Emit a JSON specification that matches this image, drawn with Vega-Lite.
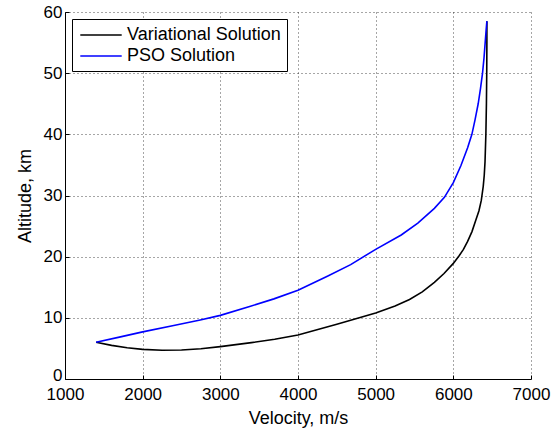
{
  "$schema": "https://vega.github.io/schema/vega-lite/v6.json",
  "width": 466,
  "height": 367,
  "autosize": "none",
  "padding": {"left": 65, "top": 12, "right": 25, "bottom": 49},
  "background": "white",
  "data": {
    "values": [
      {"series": "Variational Solution", "i": 1, "v": 1400, "alt": 6.0},
      {"series": "Variational Solution", "i": 2, "v": 1600, "alt": 5.5},
      {"series": "Variational Solution", "i": 3, "v": 1800, "alt": 5.1},
      {"series": "Variational Solution", "i": 4, "v": 2000, "alt": 4.85},
      {"series": "Variational Solution", "i": 5, "v": 2250, "alt": 4.7},
      {"series": "Variational Solution", "i": 6, "v": 2500, "alt": 4.75},
      {"series": "Variational Solution", "i": 7, "v": 2750, "alt": 4.95},
      {"series": "Variational Solution", "i": 8, "v": 3000, "alt": 5.3},
      {"series": "Variational Solution", "i": 9, "v": 3400, "alt": 5.95},
      {"series": "Variational Solution", "i": 10, "v": 3700, "alt": 6.5},
      {"series": "Variational Solution", "i": 11, "v": 4000, "alt": 7.2},
      {"series": "Variational Solution", "i": 12, "v": 4500, "alt": 8.95},
      {"series": "Variational Solution", "i": 13, "v": 5000, "alt": 10.8},
      {"series": "Variational Solution", "i": 14, "v": 5250, "alt": 11.95},
      {"series": "Variational Solution", "i": 15, "v": 5436, "alt": 13.0},
      {"series": "Variational Solution", "i": 16, "v": 5600, "alt": 14.25},
      {"series": "Variational Solution", "i": 17, "v": 5756, "alt": 15.8},
      {"series": "Variational Solution", "i": 18, "v": 5880, "alt": 17.25},
      {"series": "Variational Solution", "i": 19, "v": 6000, "alt": 18.9},
      {"series": "Variational Solution", "i": 20, "v": 6077, "alt": 20.2},
      {"series": "Variational Solution", "i": 21, "v": 6130, "alt": 21.2},
      {"series": "Variational Solution", "i": 22, "v": 6184, "alt": 22.5},
      {"series": "Variational Solution", "i": 23, "v": 6240, "alt": 24.1},
      {"series": "Variational Solution", "i": 24, "v": 6290, "alt": 26.0},
      {"series": "Variational Solution", "i": 25, "v": 6330, "alt": 27.5},
      {"series": "Variational Solution", "i": 26, "v": 6360, "alt": 29.2},
      {"series": "Variational Solution", "i": 27, "v": 6385, "alt": 31.5},
      {"series": "Variational Solution", "i": 28, "v": 6398, "alt": 33.3},
      {"series": "Variational Solution", "i": 29, "v": 6408, "alt": 35.5},
      {"series": "Variational Solution", "i": 30, "v": 6419, "alt": 40.0},
      {"series": "Variational Solution", "i": 31, "v": 6426, "alt": 45.0},
      {"series": "Variational Solution", "i": 32, "v": 6430, "alt": 50.0},
      {"series": "Variational Solution", "i": 33, "v": 6432, "alt": 55.0},
      {"series": "Variational Solution", "i": 34, "v": 6432, "alt": 58.5},
      {"series": "PSO Solution", "i": 1, "v": 1400, "alt": 6.0},
      {"series": "PSO Solution", "i": 2, "v": 1700, "alt": 6.85},
      {"series": "PSO Solution", "i": 3, "v": 2000, "alt": 7.7},
      {"series": "PSO Solution", "i": 4, "v": 2400, "alt": 8.75},
      {"series": "PSO Solution", "i": 5, "v": 2741, "alt": 9.65},
      {"series": "PSO Solution", "i": 6, "v": 3000, "alt": 10.4},
      {"series": "PSO Solution", "i": 7, "v": 3388, "alt": 11.9},
      {"series": "PSO Solution", "i": 8, "v": 3690, "alt": 13.1},
      {"series": "PSO Solution", "i": 9, "v": 4000, "alt": 14.5},
      {"series": "PSO Solution", "i": 10, "v": 4378, "alt": 16.8},
      {"series": "PSO Solution", "i": 11, "v": 4678, "alt": 18.7},
      {"series": "PSO Solution", "i": 12, "v": 5000, "alt": 21.2},
      {"series": "PSO Solution", "i": 13, "v": 5329, "alt": 23.55},
      {"series": "PSO Solution", "i": 14, "v": 5543, "alt": 25.5},
      {"series": "PSO Solution", "i": 15, "v": 5756, "alt": 27.9},
      {"series": "PSO Solution", "i": 16, "v": 5885, "alt": 29.7},
      {"series": "PSO Solution", "i": 17, "v": 6000, "alt": 32.1},
      {"series": "PSO Solution", "i": 18, "v": 6098, "alt": 34.9},
      {"series": "PSO Solution", "i": 19, "v": 6184, "alt": 37.8},
      {"series": "PSO Solution", "i": 20, "v": 6239, "alt": 40.0},
      {"series": "PSO Solution", "i": 21, "v": 6280, "alt": 42.4},
      {"series": "PSO Solution", "i": 22, "v": 6320, "alt": 45.0},
      {"series": "PSO Solution", "i": 23, "v": 6350, "alt": 47.5},
      {"series": "PSO Solution", "i": 24, "v": 6376, "alt": 50.0},
      {"series": "PSO Solution", "i": 25, "v": 6395, "alt": 52.5},
      {"series": "PSO Solution", "i": 26, "v": 6410, "alt": 55.0},
      {"series": "PSO Solution", "i": 27, "v": 6422, "alt": 57.0},
      {"series": "PSO Solution", "i": 28, "v": 6432, "alt": 58.5}
    ]
  },
  "mark": {"type": "line", "strokeWidth": 1.6, "clip": true},
  "encoding": {
    "x": {
      "field": "v", "type": "quantitative",
      "scale": {"domain": [1000, 7000], "nice": false, "zero": false},
      "axis": {"values": [1000, 2000, 3000, 4000, 5000, 6000, 7000], "format": "d", "title": "Velocity, m/s", "titlePadding": 7, "labelPadding": 11, "labelFlush": false, "labelOverlap": false}
    },
    "y": {
      "field": "alt", "type": "quantitative",
      "scale": {"domain": [0, 60], "nice": false},
      "axis": {
        "values": [0, 10, 20, 30, 40, 50, 60], "title": "Altitude, km", "titlePadding": 9, "labelPadding": 7, "labelFlush": false, "labelOverlap": false,
        "labelOffset": {"condition": {"test": "datum.value === 0", "value": -4}, "value": 0}
      }
    },
    "color": {
      "field": "series", "type": "nominal",
      "scale": {"domain": ["Variational Solution", "PSO Solution"], "range": ["#000000", "#0000ff"]},
      "legend": {
        "title": null,
        "orient": "top-left",
        "offset": 7,
        "symbolType": "M-2.3,0H2.3",
        "symbolSize": 324,
        "symbolStrokeWidth": 1.5,
        "symbolOffset": 13,
        "labelFont": "Liberation Sans",
        "labelFontSize": 18,
        "labelColor": "#000000",
        "labelLimit": 400,
        "labelOffset": 16,
        "strokeColor": "#000000",
        "fillColor": "#ffffff",
        "padding": 6,
        "rowPadding": 2
      }
    },
    "order": {"field": "i", "type": "quantitative"}
  },
  "config": {
    "view": {"stroke": null},
    "axis": {
      "domainColor": "#000000",
      "domainWidth": 1,
      "tickColor": "#000000",
      "tickSize": -4,
      "gridColor": "#000000",
      "gridDash": [1, 3],
      "gridOpacity": 0.7,
      "gridWidth": 1,
      "labelFont": "Liberation Sans",
      "labelFontSize": 17,
      "labelColor": "#000000",
      "titleFont": "Liberation Sans",
      "titleFontSize": 18,
      "titleFontWeight": "normal",
      "titleColor": "#000000"
    }
  }
}
